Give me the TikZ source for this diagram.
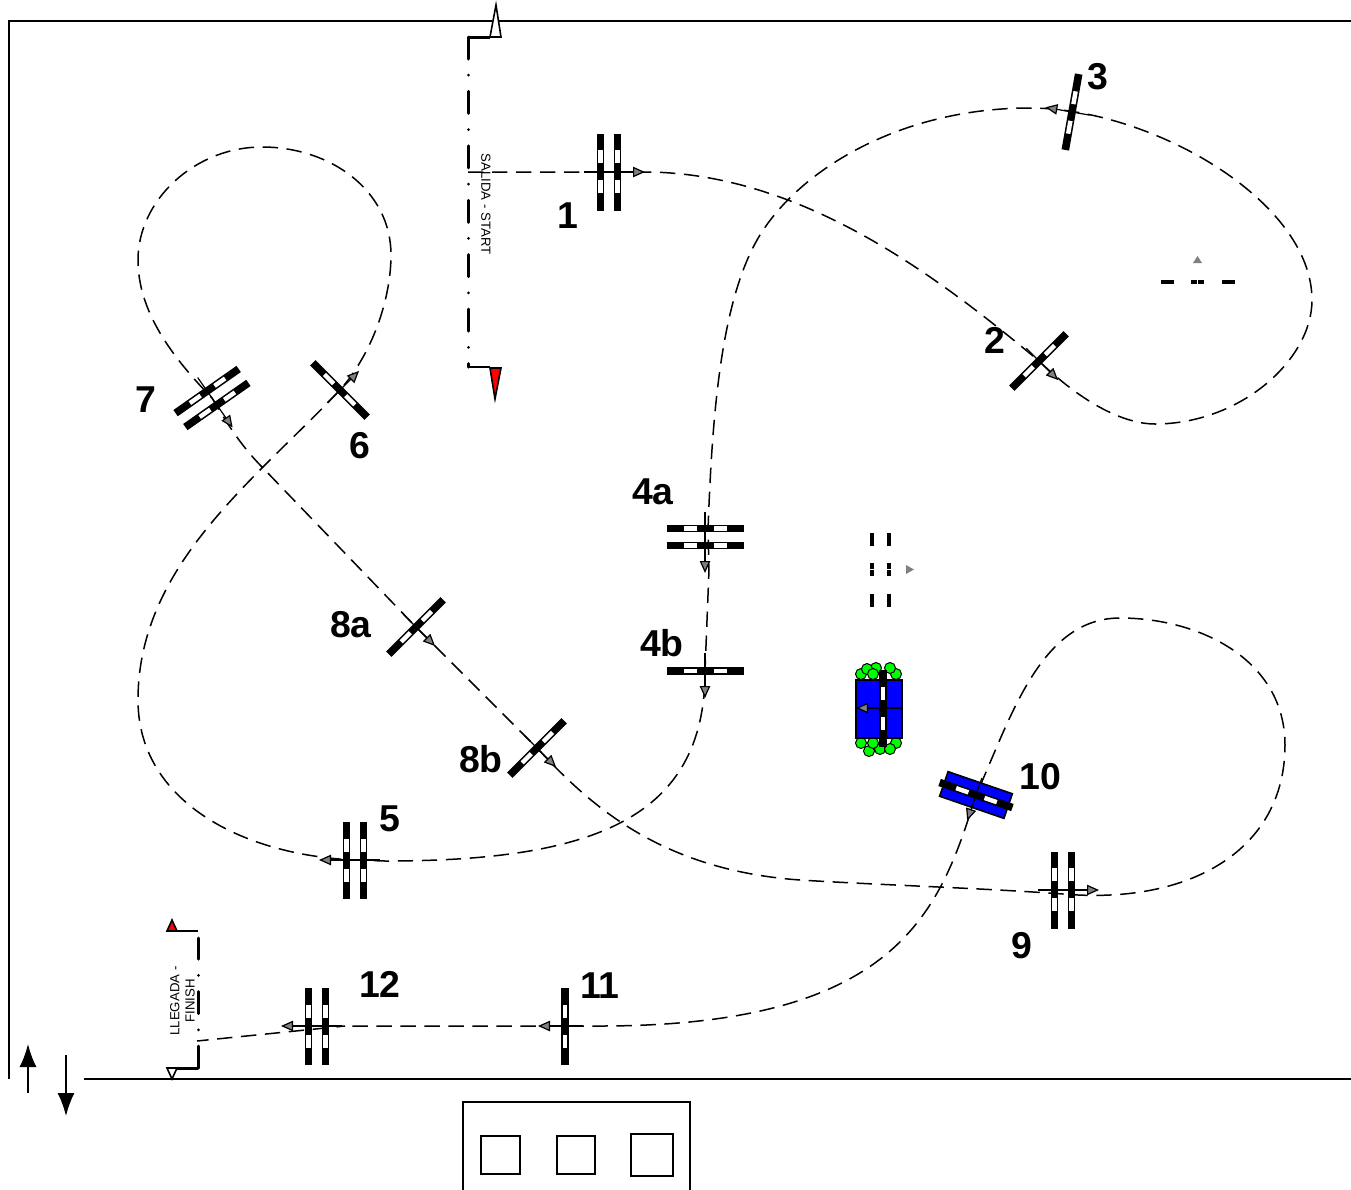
\documentclass[tikz,border=0pt]{standalone}
\usepackage{fontspec}
\setmainfont{Liberation Sans}
\usetikzlibrary{arrows.meta}
\newcommand{\gatebar}[1]{
  \fill[black] (#1-3.8,-38.5) rectangle (#1+3.8,38.5);
  \fill[white] (#1-2.2,-22) rectangle (#1+2.2,-9);
  \fill[white] (#1-2.2,8) rectangle (#1+2.2,21);
}
\newcommand{\ghostbar}[1]{
  \fill[black] (#1-2,-37) rectangle (#1+2,-24);
  \fill[black] (#1-2,-6.5) rectangle (#1+2,-0.7);
  \fill[black] (#1-2,0.7) rectangle (#1+2,6.5);
  \fill[black] (#1-2,24) rectangle (#1+2,37);
}
\tikzset{
  course/.style={line width=0.75pt,dash pattern=on 7.7pt off 4.3pt},
  heading/.style={line width=0.6pt,-{Triangle[length=6pt,width=5.2pt,fill=gray]}},
  frameline/.style={line width=0.8pt},
  bigarrow/.style={line width=0.8pt,-{Latex[length=11.5pt,width=8.5pt]}},
  startline/.style={line width=1.5pt,line cap=round,dash pattern=on 11pt off 8.1pt on 0.01pt off 8.1pt},
  gatelabel/.style={font=\fontsize{18.7}{19}\selectfont\bfseries,inner sep=0pt},
  linetext/.style={font=\fontsize{6.6}{7.6}\selectfont,inner sep=0pt,align=center},
  plant/.style={line width=0.5pt,fill=green},
  gate/.pic={
    \gatebar{0}
    \draw[heading] (-18,0) -- (27,0);
  },
  twogate/.pic={
    \gatebar{-8.5}
    \gatebar{8.5}
    \draw[heading] (-25,0) -- (36,0);
  },
  ghostgate/.pic={
    \ghostbar{0}
  },
  ghosttwo/.pic={
    \ghostbar{-8.5}
    \ghostbar{8.5}
  },
}
\begin{document}
\begin{tikzpicture}[x=0.5pt,y=-0.5pt]
  \useasboundingbox (0,0) rectangle (1351,1190);
  \coordinate (G1) at (609,172);
  \coordinate (G2) at (1039,361);
  \coordinate (G3) at (1072,112);
  \coordinate (G4a) at (705,537);
  \coordinate (G4b) at (705,671);
  \coordinate (G5) at (355,860);
  \coordinate (G6) at (340,390);
  \coordinate (G7) at (212,398);
  \coordinate (G8a) at (416,627);
  \coordinate (G8b) at (537,748);
  \coordinate (G9) at (1063,890);
  \coordinate (G10) at (976,795);
  \coordinate (G11) at (565,1026);
  \coordinate (G12) at (317,1026);
  % ring
  \draw[frameline] (9,1079) -- (9,21) -- (1351,21);
  \draw[frameline] (84,1079) -- (1351,1079);
  \draw[bigarrow] (28,1093) -- (28,1044);
  \draw[bigarrow] (66,1055) -- (66,1116);
  \draw[frameline] (463,1190) -- (463,1102) -- (690,1102) -- (690,1190);
  \draw[frameline] (481,1136) rectangle (520,1174);
  \draw[frameline] (557,1136) rectangle (595,1174);
  \draw[frameline] (631,1134) rectangle (673,1176);
  % course
  \draw[course] (468,172) -- (G1) -- (650,172)
    .. controls (800,175) and (930,270) .. (G2)
    .. controls (1090,410) and (1130,424) .. (1155,424)
    .. controls (1240,424) and (1312,360) .. (1312,300)
    .. controls (1312,200) and (1150,108) .. (1030,108)
    .. controls (900,108) and (800,170) .. (760,235)
    .. controls (720,300) and (712,420) .. (708,530)
    -- (709,570) -- (G4b) -- (705,680)
    .. controls (700,820) and (590,861) .. (385,861)
    -- (G5)
    .. controls (240,855) and (138,800) .. (138,700)
    .. controls (138,565) and (255,480) .. (G6)
    .. controls (375,350) and (391,295) .. (391,255)
    .. controls (391,190) and (330,147) .. (262,147)
    .. controls (195,147) and (138,200) .. (138,260)
    .. controls (138,310) and (170,355) .. (G7)
    .. controls (225,420) and (240,445) .. (263,468)
    -- (G8a) -- (G8b)
    .. controls (590,805) and (660,870) .. (800,880)
    .. controls (880,885) and (980,888) .. (1063,894)
    .. controls (1190,905) and (1285,850) .. (1285,745)
    .. controls (1285,660) and (1200,618) .. (1120,618)
    .. controls (1040,618) and (1010,720) .. (G10)
    .. controls (940,910) and (900,1026) .. (600,1026)
    -- (G11) -- (G12) -- (345,1026) -- (197,1041);
  % start and finish lines
  \draw[startline] (468,37) -- (468,367);
  \draw[line width=1.5pt] (468,37) -- (490,37);
  \draw[frameline] (468,367) -- (490,367);
  \draw[frameline,fill=white] (490,37) -- (501,37) -- (496,5) -- cycle;
  \draw[frameline,fill=red] (490,368) -- (501,368) -- (495,399) -- cycle;
  \node[linetext,rotate=-90] (salida) at (486,204) {SALIDA - START};
  \draw[startline] (198,1068) -- (198,938);
  \draw[line width=1.5pt] (198,1068) -- (167,1068);
  \draw[frameline] (198,931) -- (167,931);
  \draw[frameline,fill=red] (167,931) -- (177,931) -- (172,920) -- cycle;
  \draw[frameline,fill=white] (167,1068) -- (177,1068) -- (172,1079) -- cycle;
  \node[linetext,rotate=90] (llegada) at (182.5,1001) {LLEGADA -\\FINISH};
  % gates
  \pic at (G1) {twogate};
  \pic[rotate=-45] at (G2) {gate};
  \pic[rotate=170] at (G3) {gate};
  \pic[rotate=-90] at (G4a) {twogate};
  \pic[rotate=-90] at (G4b) {gate};
  \pic[rotate=180] at (G5) {twogate};
  \pic[rotate=45] at (G6) {gate};
  \pic[rotate=-55] at (G7) {twogate};
  \pic[rotate=-45] at (G8a) {gate};
  \pic[rotate=-45] at (G8b) {gate};
  \pic at (G9) {twogate};
  \pic[rotate=180] at (G11) {gate};
  \pic[rotate=180] at (G12) {twogate};
  % gate 10 over its table
  \draw[frameline,fill=blue,rotate around={-19:(G10)}] (942,782) rectangle (1010,808);
  \pic[rotate=-109] at (G10) {gate};
  % table with plants
  \draw[plant] (861,674) circle (5.5);
  \draw[plant] (876,668) circle (5.5);
  \draw[plant] (896,674) circle (5.5);
  \draw[plant] (867,669) circle (5.5);
  \draw[plant] (890,668) circle (5.5);
  \draw[plant] (873,674) circle (5.5);
  \draw[plant] (869,751) circle (5.5);
  \draw[plant] (880,749) circle (5.5);
  \draw[plant] (861,743) circle (5.5);
  \draw[plant] (896,743) circle (5.5);
  \draw[plant] (890,749) circle (5.5);
  \draw[plant] (873,743) circle (5.5);
  \draw[frameline,fill=blue] (856,680) rectangle (902,738);
  \pic[rotate=180] at (883,708) {gate};
  % ghost gates
  \pic at (880.5,569.5) {ghosttwo};
  \fill[gray] (906,565) -- (914,569.5) -- (906,574) -- cycle;
  \pic[rotate=90] at (1197.5,282) {ghostgate};
  \fill[gray] (1193,263) -- (1197.5,256) -- (1202,263) -- cycle;
  % labels
  \node[gatelabel] (lab1) at (567.5,216) {1};
  \node[gatelabel] (lab2) at (995,340) {2};
  \node[gatelabel] (lab3) at (1098,77) {3};
  \node[gatelabel] (lab4a) at (653,492) {4a};
  \node[gatelabel] (lab4b) at (662,643) {4b};
  \node[gatelabel] (lab5) at (390,819) {5};
  \node[gatelabel] (lab6) at (359.5,446) {6};
  \node[gatelabel] (lab7) at (146,400) {7};
  \node[gatelabel] (lab8a) at (351,625) {8a};
  \node[gatelabel] (lab8b) at (481,759) {8b};
  \node[gatelabel] (lab9) at (1022,946) {9};
  \node[gatelabel] (lab10) at (1040,777) {10};
  \node[gatelabel] (lab11) at (600,986) {11};
  \node[gatelabel] (lab12) at (380,984) {12};
\end{tikzpicture}
\end{document}
